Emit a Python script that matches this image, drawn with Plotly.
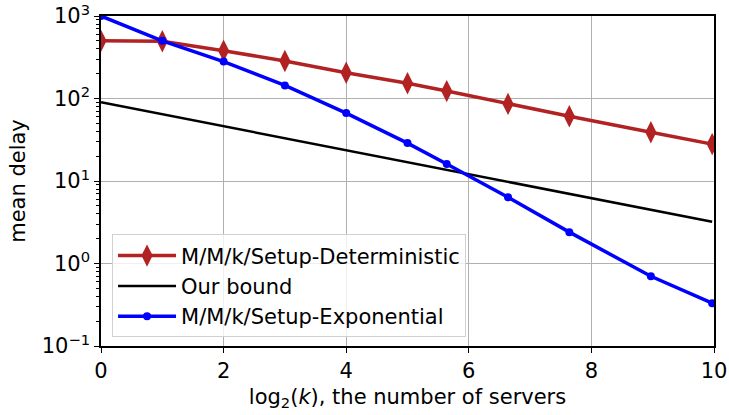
import plotly.graph_objects as go

servers = [1, 2, 4, 8, 16, 32, 50, 100, 200, 500, 1000]
log2k = [0, 1, 2, 3, 4, 5, 5.64, 6.64, 7.64, 8.97, 9.97]
det_delay = [500, 495, 380, 285, 205, 153, 123, 86, 61, 39, 28]
bound_delay = [90, 64.5, 46, 33, 23.6, 16.9, 13.6, 9.75, 7.0, 4.5, 3.2]
exp_delay = [1000, 500, 280, 144, 66.5, 28.8, 16.1, 6.35, 2.4, 0.70, 0.33]

x_ticks = [0, 2, 4, 6, 8, 10]
y_ticks = [0.1, 1, 10, 100, 1000]
y_ticktext = ["10<sup>\u22121</sup>", "10<sup>0</sup>", "10<sup>1</sup>",
              "10<sup>2</sup>", "10<sup>3</sup>"]
y_minor = [m * d for d in [0.1, 1, 10, 100] for m in range(2, 10)]

FONT = "DejaVu Sans"
FS = 21

fig = go.Figure()
fig.add_trace(go.Scatter(
    x=log2k, y=det_delay, mode="lines+markers", name="M/M/k/Setup-Deterministic",
    line=dict(color="#b22222", width=3.5),
    marker=dict(symbol="diamond-tall", size=16, color="#b22222"),
))
fig.add_trace(go.Scatter(
    x=log2k, y=bound_delay, mode="lines", name="Our bound",
    line=dict(color="black", width=2.5),
))
fig.add_trace(go.Scatter(
    x=log2k, y=exp_delay, mode="lines+markers", name="M/M/k/Setup-Exponential",
    line=dict(color="#0000ff", width=3.5),
    marker=dict(symbol="circle", size=8, color="#0000ff"),
))

fig.update_layout(
    width=729, height=415,
    margin=dict(l=101, r=15, t=16, b=69),
    paper_bgcolor="white", plot_bgcolor="white",
    font=dict(family=FONT, size=FS, color="black"),
    showlegend=True,
    legend=dict(
        x=0.018, y=0.338, xanchor="left", yanchor="top",
        bgcolor="rgba(255,255,255,0.8)", bordercolor="#d0d0d0", borderwidth=1,
        font=dict(family=FONT, size=FS), traceorder="normal",
        tracegroupgap=0, itemwidth=58,
    ),
    xaxis=dict(
        range=[0, 10], tickvals=x_ticks, automargin=False,
        ticklabeloverflow="allow",
        showgrid=True, gridcolor="#b0b0b0", gridwidth=1,
        showline=True, linecolor="black", linewidth=1.5, mirror=True,
        ticks="outside", ticklen=5, tickcolor="black", tickwidth=1.2,
        zeroline=False,
        title=dict(text="log<sub>2</sub>(<i>k</i>), the number of servers",
                   font=dict(family=FONT, size=FS), standoff=7),
        tickfont=dict(family=FONT, size=FS),
    ),
    yaxis=dict(
        type="log", range=[-1, 3], tickvals=y_ticks, ticktext=y_ticktext,
        automargin=False, ticklabeloverflow="allow",
        showgrid=True, gridcolor="#b0b0b0", gridwidth=1,
        showline=True, linecolor="black", linewidth=1.5, mirror=True,
        ticks="outside", ticklen=5, tickcolor="black", tickwidth=1.2,
        zeroline=False,
        minor=dict(tickvals=y_minor, ticks="outside", ticklen=3,
                   tickcolor="black", tickwidth=0.8, showgrid=False),
        title=dict(text="mean delay", font=dict(family=FONT, size=FS), standoff=10),
        tickfont=dict(family=FONT, size=FS),
    ),
)

fig.write_html("out.html", config={"displayModeBar": False},
               post_script="document.body.style.margin='0';")
